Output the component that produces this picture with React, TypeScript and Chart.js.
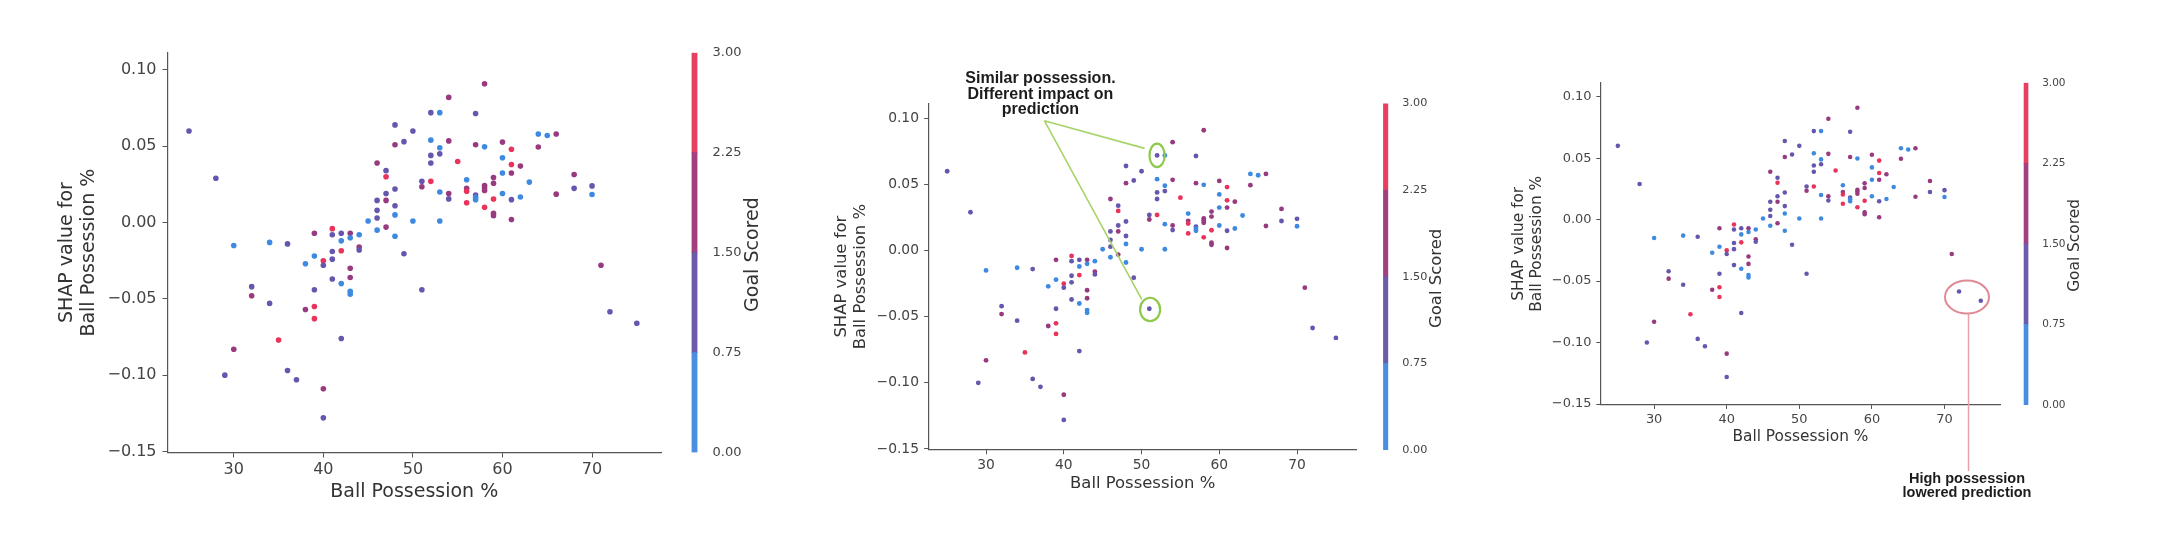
import React, { useEffect, useRef } from 'react';
import { Chart, registerables } from 'chart.js';

Chart.register(...registerables);
Chart.defaults.font.family = '"DejaVu Sans", sans-serif';

// ---------------- data ----------------
const possession = [
  25, 28, 30, 30, 29, 32, 32, 34, 34, 35,
  36, 36, 37, 38, 38, 39, 39, 39, 39, 39,
  40, 40, 40, 40, 41, 41, 41, 41, 41, 42,
  42, 42, 42, 42, 43, 43, 43, 43, 43, 43,
  44, 44, 44, 45, 46, 46, 46, 46, 46, 47,
  47, 47, 47, 47, 48, 48, 48, 48, 48, 48,
  49, 49, 50, 50, 51, 51, 51, 52, 52, 52,
  52, 52, 53, 53, 53, 53, 53, 54, 54, 54,
  54, 55, 56, 56, 56, 56, 57, 57, 57, 57,
  57, 58, 58, 58, 58, 58, 58, 59, 59, 59,
  59, 59, 60, 60, 60, 60, 61, 61, 61, 61,
  61, 62, 62, 63, 64, 64, 65, 66, 66, 68,
  68, 70, 70, 71, 72, 75,
];
const shapValues = [
  0.060, 0.029, -0.015, -0.083, -0.100, -0.042, -0.048, -0.013, -0.053, -0.077,
  -0.014, -0.097, -0.103, -0.027, -0.057, -0.007, -0.022, -0.044, -0.055, -0.063,
  -0.025, -0.028, -0.109, -0.128, -0.004, -0.008, -0.019, -0.024, -0.037, -0.007,
  -0.012, -0.0185, -0.040, -0.076, -0.007, -0.010, -0.030, -0.036, -0.045, -0.047,
  -0.008, -0.016, -0.018, 0.001, 0.0145, 0.008, 0.003, -0.005, 0.039, 0.034,
  0.030, 0.019, 0.0145, -0.003, 0.064, 0.051, 0.022, 0.011, 0.005, -0.009,
  0.053, -0.0205, 0.060, 0.001, 0.027, 0.0235, -0.044, 0.072, 0.054, 0.044,
  0.039, 0.027, 0.072, 0.049, 0.045, 0.020, 0.001, 0.082, 0.0535, 0.019,
  0.0155, 0.040, 0.028, 0.0225, 0.0205, 0.013, 0.0715, 0.051, 0.018, 0.0165,
  0.015, 0.091, 0.0497, 0.0243, 0.0228, 0.021, 0.010, 0.0295, 0.0257, 0.0154,
  0.006, 0.0044, 0.0527, 0.0425, 0.0325, 0.019, 0.048, 0.038, 0.0325, 0.015,
  0.002, 0.037, 0.0167, 0.0265, 0.058, 0.0495, 0.057, 0.058, 0.0186, 0.0315,
  0.0224, 0.024, 0.0184, -0.028, -0.0585, -0.066,
];
const goalsScored = [
  1, 1, 0, 2, 1, 1, 2, 0, 1, 3,
  1, 1, 1, 0, 2, 2, 0, 1, 3, 3,
  3, 1, 2, 1, 3, 1, 1, 1, 1, 1,
  0, 3, 0, 1, 2, 0, 2, 2, 0, 0,
  0, 2, 1, 0, 1, 1, 1, 0, 2, 1,
  3, 1, 2, 2, 1, 2, 1, 1, 0, 0,
  1, 1, 1, 0, 1, 2, 1, 1, 0, 1,
  1, 3, 0, 0, 1, 0, 0, 2, 2, 2,
  1, 3, 0, 2, 3, 3, 1, 2, 1, 0,
  0, 2, 0, 2, 2, 2, 3, 2, 2, 3,
  2, 2, 2, 0, 0, 0, 3, 3, 2, 1,
  2, 2, 0, 0, 0, 2, 0, 2, 2, 2,
  1, 1, 0, 2, 1, 1,
];

const xTickValues = [30, 40, 50, 60, 70];
const yTickValues = [-0.15, -0.1, -0.05, 0, 0.05, 0.1];
const colorbarTicks = [0, 0.75, 1.5, 2.25, 3];
const colorbarBins = [0.75, 0.75, 0.75, 0.75];

const similarNoteLines = ['Similar possession.', 'Different impact on', 'prediction'];
const highNoteLines = ['High possession', 'lowered prediction'];

// ---------------- styling ----------------
const binColors = ['#4a8ee0', '#6c5aaa', '#a2407f', '#e63f60'];
const pointColors = ['#3d8ae0', '#6656ae', '#973a7f', '#e9335b'];
const X_MIN = 22.6;
const X_MAX = 77.7;
const Y_MIN = -0.1507;
const Y_MAX = 0.1113;
const W = 2174;
const H = 540;
const FONT = '"DejaVu Sans", sans-serif';

type Panel = { left: number; top: number; right: number; bottom: number; s: number; cb: number; note?: 'similar' | 'high' };
const panels: Panel[] = [
  { left: 167.5, top: 52.7, right: 661, bottom: 452.5, s: 1, cb: 30.5 },
  { left: 928.5, top: 103.4, right: 1356.9, bottom: 449.9, s: 0.866, cb: 26.2, note: 'similar' },
  { left: 1600.4, top: 82.8, right: 2000.4, bottom: 404.9, s: 0.81, cb: 23.2, note: 'high' },
];

const binIndex = (g: number) => Math.min(3, Math.floor(g / 0.75));
const fmtY = (v: any) => {
  const t = Number(v).toFixed(2);
  return t.startsWith('-') ? '\u2212' + t.slice(1) : t;
};

function notePlugin(p: Panel) {
  return {
    id: 'notes' + p.note,
    afterDraw(chart: any) {
      if (!p.note) return;
      const ctx = chart.ctx;
      const xs = chart.scales.x;
      const ys = chart.scales.y;
      const px = (v: number) => xs.getPixelForValue(v);
      const py = (v: number) => ys.getPixelForValue(v);
      ctx.save();
      if (p.note === 'similar') {
        ctx.strokeStyle = '#a6d46a';
        ctx.lineWidth = 1.6;
        const ax = px(37.5), ay = py(0.0982);
        ctx.beginPath();
        ctx.moveTo(ax, ay);
        ctx.lineTo(px(50.4), py(0.0773));
        ctx.moveTo(ax, ay);
        ctx.lineTo(px(50.03), py(-0.0368));
        ctx.stroke();
        ctx.strokeStyle = '#8fc94a';
        ctx.lineWidth = 2.2;
        ctx.beginPath();
        ctx.ellipse(px(52), py(0.072), 7.6, 11.7, 0, 0, Math.PI * 2);
        ctx.stroke();
        ctx.beginPath();
        ctx.ellipse(px(51.1), py(-0.0445), 10, 11.7, 0, 0, Math.PI * 2);
        ctx.stroke();
        ctx.fillStyle = '#1c1c1c';
        ctx.font = 'bold 16px "Liberation Sans", Arial, sans-serif';
        ctx.textAlign = 'center';
        ctx.textBaseline = 'middle';
        const cx = px(37.0);
        const y0 = py(0.1297);
        similarNoteLines.forEach((t, i) => ctx.fillText(t, cx, y0 + i * 15.5));
      } else if (p.note === 'high') {
        const cx = px(73.1), cy = py(-0.063);
        ctx.strokeStyle = '#de8a94';
        ctx.lineWidth = 2;
        ctx.beginPath();
        ctx.ellipse(cx, cy, 22, 16.5, 0, 0, Math.PI * 2);
        ctx.stroke();
        const ty = py(-0.211);
        ctx.strokeStyle = '#e9a2aa';
        ctx.lineWidth = 1.5;
        ctx.beginPath();
        ctx.moveTo(cx + 1.5, cy + 16.5);
        ctx.lineTo(cx + 1.5, ty - 8);
        ctx.stroke();
        ctx.fillStyle = '#1c1c1c';
        ctx.font = 'bold 14.5px "Liberation Sans", Arial, sans-serif';
        ctx.textAlign = 'center';
        ctx.textBaseline = 'middle';
        highNoteLines.forEach((t, i) => ctx.fillText(t, cx, ty + i * 13.5));
      }
      ctx.restore();
    },
  };
}

function scatterConfig(p: Panel): any {
  const s = p.s;
  const tickFont = { family: FONT, size: 16 * s };
  const titleFont = { family: FONT, size: 19 * s, lineHeight: 1.16 };
  const yAxisW = 130 * s;
  const xAxisH = 60 * s;
  return {
    type: 'scatter',
    data: {
      datasets: [
        {
          data: possession.map((x, i) => ({ x, y: shapValues[i] })),
          backgroundColor: goalsScored.map((g) => pointColors[binIndex(g)]),
          pointRadius: 2.8 * s,
          pointHoverRadius: 2.8 * s,
          borderWidth: 0,
        },
      ],
    },
    options: {
      responsive: false,
      animation: false,
      events: [],
      layout: {
        padding: { left: p.left - yAxisW, top: p.top, right: W - p.right, bottom: H - p.bottom - xAxisH },
      },
      plugins: { legend: { display: false }, tooltip: { enabled: false } },
      scales: {
        x: {
          type: 'linear',
          min: X_MIN,
          max: X_MAX,
          afterBuildTicks: (sc: any) => {
            sc.ticks = xTickValues.map((value) => ({ value }));
          },
          afterFit: (sc: any) => {
            sc.height = xAxisH;
          },
          ticks: { font: tickFont, color: '#444', padding: 3 * s, callback: (v: any) => String(v) },
          grid: { display: true, drawOnChartArea: false, drawTicks: true, tickLength: 5 * s, color: '#555', lineWidth: 1 },
          border: { display: true, color: '#555', width: 1.2 },
          title: { display: true, text: 'Ball Possession %', font: titleFont, color: '#333', padding: { top: 0, bottom: 9.5 * s } },
        },
        y: {
          type: 'linear',
          min: Y_MIN,
          max: Y_MAX,
          afterBuildTicks: (sc: any) => {
            sc.ticks = yTickValues.map((value) => ({ value }));
          },
          afterFit: (sc: any) => {
            sc.width = yAxisW;
          },
          ticks: { font: tickFont, color: '#444', padding: 6 * s, callback: fmtY },
          grid: { display: true, drawOnChartArea: false, drawTicks: true, tickLength: 5 * s, color: '#555', lineWidth: 1 },
          border: { display: true, color: '#555', width: 1.2 },
          title: {
            display: true,
            text: ['SHAP value for', 'Ball Possession %'],
            font: titleFont,
            color: '#333',
            padding: { top: 18.5 * s, bottom: 0 },
          },
        },
      },
    },
    plugins: [notePlugin(p)],
  };
}

function colorbarConfig(p: Panel): any {
  const s = p.s;
  const barL = p.right + p.cb;
  const barR = barL + 6 * s;
  const axisW = 60 * s;
  return {
    type: 'bar',
    data: {
      labels: [''],
      datasets: colorbarBins.map((v, i) => ({
        data: [v],
        backgroundColor: binColors[i],
        borderWidth: 0,
        barPercentage: 1,
        categoryPercentage: 1,
      })),
    },
    options: {
      responsive: false,
      animation: false,
      events: [],
      layout: { padding: { left: barL, right: W - barR - axisW, top: p.top, bottom: H - p.bottom } },
      plugins: { legend: { display: false }, tooltip: { enabled: false } },
      scales: {
        x: { display: false, stacked: true },
        y: {
          position: 'right',
          stacked: true,
          min: 0,
          max: 3,
          afterBuildTicks: (sc: any) => {
            sc.ticks = colorbarTicks.map((value) => ({ value }));
          },
          afterFit: (sc: any) => {
            sc.width = axisW;
          },
          grid: { display: false },
          border: { display: false },
          ticks: { font: { family: FONT, size: 13 * s }, color: '#444', padding: 7 * s, callback: (v: any) => Number(v).toFixed(2) },
        },
      },
    },
    plugins: [
      {
        id: 'cbTitle',
        afterDraw(chart: any) {
          const ctx = chart.ctx;
          ctx.save();
          ctx.translate(p.right + 92 * s, (p.top + p.bottom) / 2 + 2 * s);
          ctx.rotate(-Math.PI / 2);
          ctx.font = `${19 * s}px ${FONT}`;
          ctx.fillStyle = '#333';
          ctx.textAlign = 'center';
          ctx.textBaseline = 'middle';
          ctx.fillText('Goal Scored', 0, 0);
          ctx.restore();
        },
      },
    ],
  };
}

function ChartCanvas({ make }: { make: () => any }) {
  const ref = useRef<HTMLCanvasElement | null>(null);
  useEffect(() => {
    if (!ref.current) return;
    const chart = new Chart(ref.current, make());
    return () => chart.destroy();
  }, []);
  return <canvas ref={ref} width={W} height={H} style={{ position: 'absolute', left: 0, top: 0 }} />;
}

export default function App() {
  useEffect(() => {
    document.body.style.margin = '0';
  }, []);
  return (
    <div style={{ position: 'relative', width: W, height: H, background: '#fff', overflow: 'hidden' }}>
      {panels.map((p, i) => (
        <React.Fragment key={i}>
          <ChartCanvas make={() => scatterConfig(p)} />
          <ChartCanvas make={() => colorbarConfig(p)} />
        </React.Fragment>
      ))}
    </div>
  );
}
